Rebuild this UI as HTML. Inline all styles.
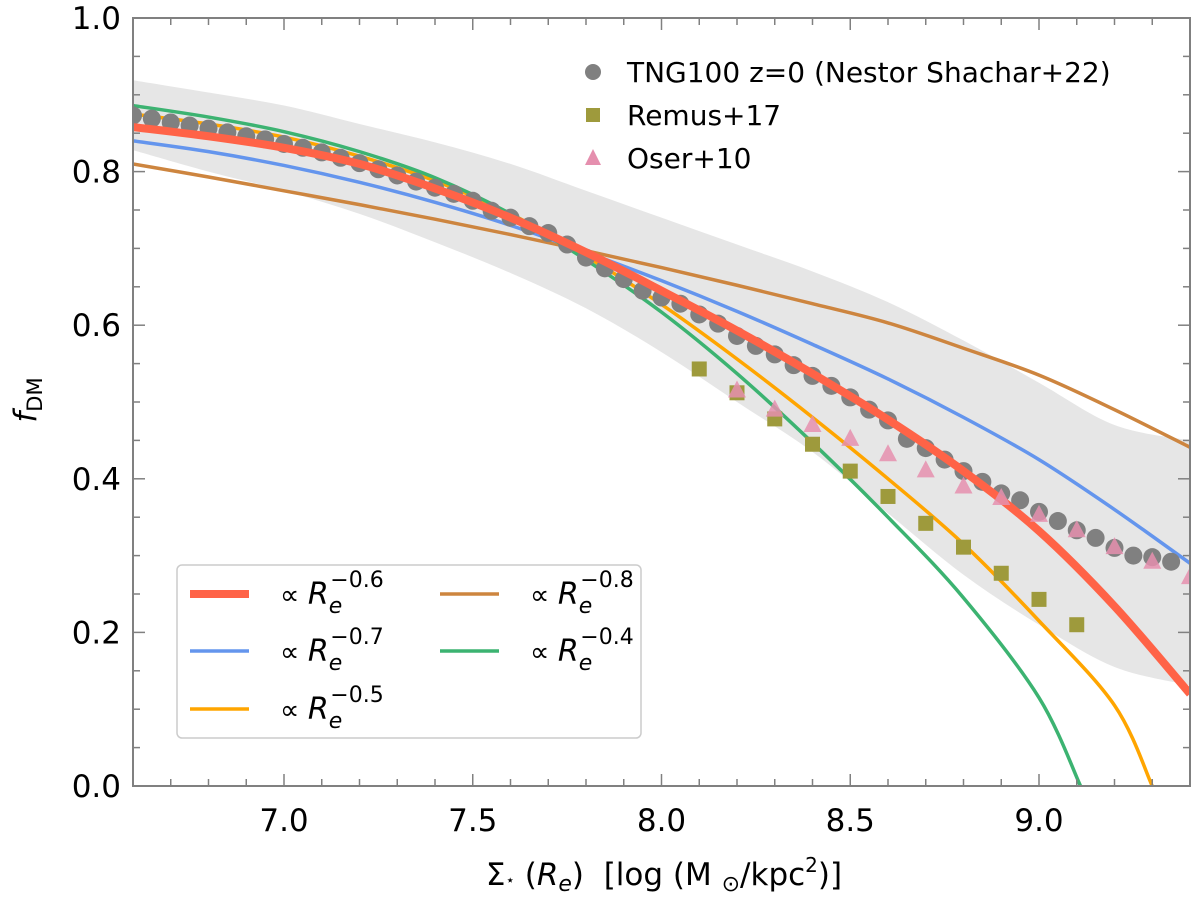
<!DOCTYPE html>
<html><head><meta charset="utf-8"><style>
body{margin:0;background:#fff}
svg text{font-family:"DejaVu Sans","Liberation Sans",sans-serif;fill:#000}
</style></head><body>
<svg id="chart" width="1200" height="904" viewBox="0 0 1200 904" xmlns="http://www.w3.org/2000/svg">
<defs><clipPath id="pc"><rect x="133" y="18" width="1057" height="768"/></clipPath></defs>
<g id="plot" clip-path="url(#pc)"></g>
<g id="axes"></g>
<text x="36" y="400" font-size="31" font-style="italic" transform="rotate(-90 36 400)" text-anchor="middle">f<tspan font-style="normal" font-size="21" dy="6">DM</tspan></text>
<text x="664" y="885" font-size="31" text-anchor="middle">Σ<tspan font-size="15">⋆</tspan> (<tspan font-style="italic">R</tspan><tspan font-style="italic" font-size="22" dy="6">e</tspan><tspan dy="-6" xml:space="preserve">)  [log (M </tspan><tspan font-size="22" dy="6">⊙</tspan><tspan dy="-6">/kpc</tspan><tspan font-size="20" dy="-13">2</tspan><tspan dy="13">)]</tspan></text>
<g id="legend-top"></g>
<g id="legend-lines"></g>
</svg>
<script>
const xTicks=[7.0,7.5,8.0,8.5,9.0];
const xTickLabels=["7.0","7.5","8.0","8.5","9.0"];
const yTicks=[0,0.2,0.4,0.6,0.8,1.0];
const yTickLabels=["0.0","0.2","0.4","0.6","0.8","1.0"];
const gridX=[6.6,6.8,7.0,7.2,7.4,7.6,7.8,8.0,8.2,8.4,8.6,8.8,9.0,9.2,9.4];
const bandUpper=[.919,.903,.886,.862,.838,.81,.775,.74,.705,.67,.63,.58,.525,.47,.45];
const bandLower=[.828,.80,.775,.745,.708,.668,.622,.565,.50,.435,.355,.275,.21,.155,.131];
const redY=[.858,.846,.831,.81,.778,.74,.695,.645,.593,.537,.477,.41,.332,.234,.12];
const blueY=[.84,.826,.808,.786,.76,.73,.695,.658,.618,.575,.53,.48,.425,.36,.29];
const brownY=[.81,.793,.775,.757,.738,.718,.697,.675,.652,.628,.603,.57,.535,.49,.441];
const orangeX=[6.6,6.8,7.0,7.2,7.4,7.6,7.8,8.0,8.2,8.4,8.6,8.8,9.0,9.2,9.3];
const orangeY=[.875,.862,.845,.82,.788,.745,.69,.627,.556,.48,.40,.315,.215,.105,0];
const greenX=[6.6,6.8,7.0,7.2,7.4,7.6,7.8,8.0,8.2,8.4,8.6,8.8,9.0,9.11];
const greenY=[.886,.871,.852,.826,.792,.745,.685,.617,.537,.447,.35,.245,.115,0];
const tngX=[6.6,6.65,6.7,6.75,6.8,6.85,6.9,6.95,7.0,7.05,7.1,7.15,7.2,7.25,7.3,7.35,7.4,7.45,7.5,7.55,7.6,7.65,7.7,7.75,7.8,7.85,7.9,7.95,8.0,8.05,8.1,8.15,8.2,8.25,8.3,8.35,8.4,8.45,8.5,8.55,8.6,8.65,8.7,8.75,8.8,8.85,8.9,8.95,9.0,9.05,9.1,9.15,9.2,9.25,9.3,9.35];
const tngY=[.873,.869,.864,.86,.856,.851,.846,.842,.836,.831,.825,.818,.811,.803,.795,.787,.779,.771,.762,.749,.74,.729,.72,.705,.688,.674,.66,.645,.636,.628,.614,.602,.586,.573,.562,.548,.534,.521,.506,.49,.476,.452,.44,.425,.41,.396,.381,.372,.357,.345,.333,.323,.31,.30,.298,.292];
const remusX=[8.1,8.2,8.3,8.4,8.5,8.6,8.7,8.8,8.9,9.0,9.1];
const remusY=[.543,.512,.478,.445,.41,.377,.342,.311,.277,.243,.21];
const oserX=[8.2,8.3,8.4,8.5,8.6,8.7,8.8,8.9,9.0,9.1,9.2,9.3,9.4];
const oserY=[.515,.49,.47,.452,.432,.411,.39,.375,.353,.333,.311,.292,.272];

const NS="http://www.w3.org/2000/svg";
const X0=133,X1=1190,Y0=786,Y1=18,XMIN=6.6,XMAX=9.4;
const sx=v=>X0+(v-XMIN)/(XMAX-XMIN)*(X1-X0);
const sy=v=>Y0-v*(Y0-Y1);
function mk(tag,attrs,parent){const e=document.createElementNS(NS,tag);for(const k in attrs)e.setAttribute(k,attrs[k]);parent.appendChild(e);return e;}
function segs(pts){let d="";for(let i=0;i<pts.length-1;i++){const p0=pts[i-1]||pts[i],p1=pts[i],p2=pts[i+1],p3=pts[i+2]||p2;
const c1=[p1[0]+(p2[0]-p0[0])/6,p1[1]+(p2[1]-p0[1])/6],c2=[p2[0]-(p3[0]-p1[0])/6,p2[1]-(p3[1]-p1[1])/6];
d+=" C"+c1[0]+","+c1[1]+" "+c2[0]+","+c2[1]+" "+p2[0]+","+p2[1];}return d;}
function smooth(pts){return "M"+pts[0][0]+","+pts[0][1]+segs(pts);}
const plot=document.getElementById('plot'),axes=document.getElementById('axes');
const up=gridX.map((x,i)=>[sx(x),sy(bandUpper[i])]);
const lo=gridX.map((x,i)=>[sx(x),sy(bandLower[i])]).reverse();
const band=mk('path',{d:smooth(up)+" L"+lo[0][0]+","+lo[0][1]+segs(lo)+" Z",fill:"#e6e6e6",stroke:"none"},plot);


function line(xs,ys,color,w,name){const p=mk('path',{d:smooth(xs.map((x,i)=>[sx(x),sy(ys[i])])),fill:"none",stroke:color,"stroke-width":w},plot);

}
line(gridX,brownY,"#cd853f",3.5,"line-re-0.8");
line(gridX,blueY,"#6495ed",3.5,"line-re-0.7");
line(orangeX,orangeY,"#ffa500",3.5,"line-re-0.5");
line(greenX,greenY,"#3cb371",3.5,"line-re-0.4");
tngX.forEach((x,i)=>{const c=mk('circle',{cx:sx(x),cy:sy(tngY[i]),r:9,fill:"#808080"},plot);

});
line(gridX,redY,"#ff6347",8,"line-re-0.6");
remusX.forEach((x,i)=>{const r=mk('rect',{x:sx(x)-7.5,y:sy(remusY[i])-7.5,width:15,height:15,fill:"#9e9a3c"},plot);

});
oserX.forEach((x,i)=>{const cx=sx(x),cy=sy(oserY[i]);const t=mk('polygon',{points:`${cx-9},${cy+7} ${cx+9},${cy+7} ${cx},${cy-10}`,fill:"#e58fae","fill-opacity":0.85},plot);

});
mk('rect',{x:X0,y:Y1,width:X1-X0,height:Y0-Y1,fill:"none",stroke:"#808080","stroke-width":2},axes);
for(let v=66;v<=94;v++){const x=sx(v/10),maj=(v%5===0);const L=maj?12:7;
mk('line',{x1:x,y1:Y0,x2:x,y2:Y0-L,stroke:"#808080","stroke-width":1.5},axes);
mk('line',{x1:x,y1:Y1,x2:x,y2:Y1+L,stroke:"#808080","stroke-width":1.5},axes);}
for(let v=0;v<=20;v++){const y=sy(v/20),maj=(v%4===0);const L=maj?12:7;
mk('line',{x1:X0,y1:y,x2:X0+L,y2:y,stroke:"#808080","stroke-width":1.5},axes);
mk('line',{x1:X1,y1:y,x2:X1-L,y2:y,stroke:"#808080","stroke-width":1.5},axes);}
xTicks.forEach((v,i)=>{const t=mk('text',{x:sx(v),y:Y0+45,"font-size":31,"text-anchor":"middle"},axes);t.textContent=xTickLabels[i];

});
yTicks.forEach((v,i)=>{const t=mk('text',{x:X0-12,y:sy(v)+11,"font-size":31,"text-anchor":"end"},axes);t.textContent=yTickLabels[i];

});
const lt=document.getElementById('legend-top');
[[72,'TNG100 z=0 (Nestor Shachar+22)'],[115,'Remus+17'],[158,'Oser+10']].forEach((r,i)=>{
if(i===0)mk('circle',{cx:593,cy:r[0],r:8,fill:"#808080"},lt);
if(i===1)mk('rect',{x:586,y:r[0]-7,width:14,height:14,fill:"#9e9a3c"},lt);
if(i===2)mk('polygon',{points:`585,${r[0]+7} 601,${r[0]+7} 593,${r[0]-9}`,fill:"#e58fae"},lt);
const t=mk('text',{x:627,y:r[0]+10,"font-size":28},lt);t.textContent=r[1];

});
const ll=document.getElementById('legend-lines');
mk('rect',{x:177,y:565,width:464,height:173,rx:5,fill:"#fff","fill-opacity":0.85,stroke:"#cccccc","stroke-width":1.5},ll);
[[190,280,594,'#ff6347',8,'0.6'],[190,280,651,'#6495ed',3.5,'0.7'],[190,280,709,'#ffa500',3.5,'0.5'],[440,530,594,'#cd853f',3.5,'0.8'],[440,530,651,'#3cb371',3.5,'0.4']].forEach(r=>{
mk('line',{x1:r[0],y1:r[2],x2:r[0]+59,y2:r[2],stroke:r[3],"stroke-width":r[4]},ll);
const t=mk('text',{x:r[1],y:r[2]+10,"font-size":27},ll);
t.innerHTML=`∝ <tspan font-style="italic" font-size="30">R</tspan><tspan font-style="italic" font-size="22" dy="9">e</tspan><tspan font-size="22" dy="-26" dx="-12">−${r[5]}</tspan>`;

});
</script>
</body></html>
